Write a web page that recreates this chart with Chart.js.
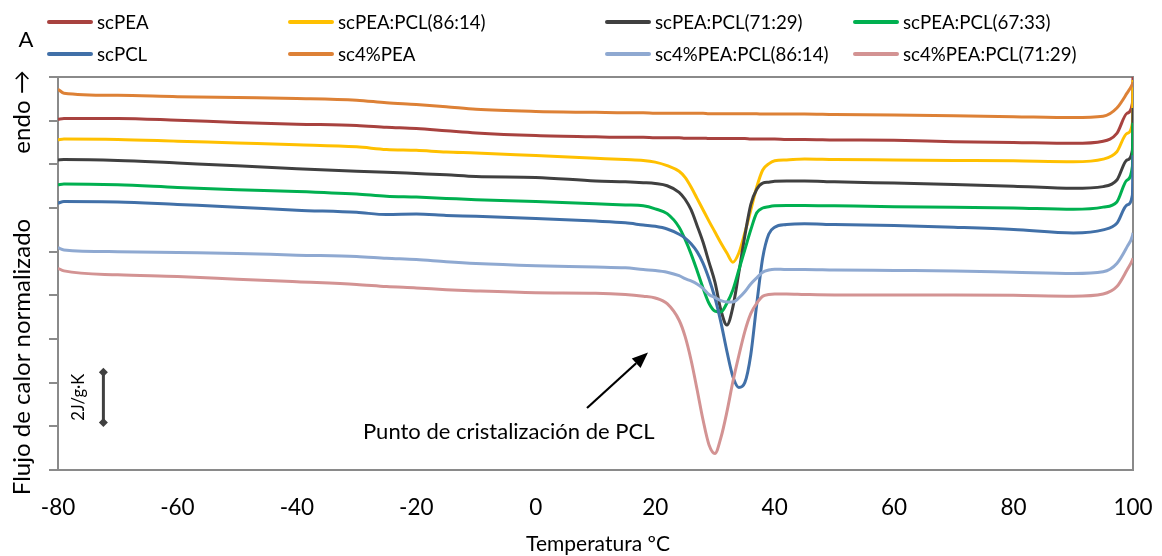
<!DOCTYPE html>
<html><head><meta charset="utf-8">
<script src="https://cdn.jsdelivr.net/npm/chart.js@4.4.0/dist/chart.umd.min.js"></script>
<style>
html,body{margin:0;padding:0;background:#fff;}
#wrap{position:relative;width:1162px;height:556px;overflow:hidden;}
#c{position:absolute;left:0;top:0;}
.leg{position:absolute;height:24px;line-height:24px;display:flex;align-items:center;font-family:Lato,sans-serif;font-size:18.7px;color:#000;white-space:nowrap;}
.leg i{display:inline-block;width:46px;height:4px;border-radius:2px;margin-right:4px;}
</style></head>
<body><div id="wrap"><canvas id="c" width="1162" height="556"></canvas></div>
<script>
// Temperature grid (ºC)
const temperatures = [-80,-79,-70,-60,-50,-40,-30,-25,-20,-15,-10,0,10,
  15,18,20,22,24,25,26,27,28,29,30,31,32,33,34,35,36,37,38,39,40,42,45,
  50,60,70,80,90,95,97.3,99,99.9,100];

const seriesNames = ['scPEA','scPEA:PCL(86:14)','scPEA:PCL(71:29)','scPEA:PCL(67:33)',
  'scPCL','sc4%PEA','sc4%PEA:PCL(86:14)','sc4%PEA:PCL(71:29)'];
const seriesColors = ['#A8423F','#FFC000','#404040','#00B050','#4170A8','#DD8136','#8FA9D1','#D39393'];

const scPEA = [8.03,8.05,8.05,8.01,7.96,7.92,7.89,7.85,7.82,7.77,7.72,7.66,7.63,
  7.62,7.62,7.61,7.61,7.61,7.60,7.60,7.60,7.60,7.59,7.59,7.59,7.59,7.59,7.59,7.59,7.58,7.58,7.58,7.58,7.58,7.57,7.57,
  7.56,7.55,7.52,7.50,7.48,7.53,7.71,8.17,8.40,9.0];
const scPEA_PCL_86_14 = [7.56,7.58,7.57,7.53,7.49,7.45,7.40,7.34,7.32,7.28,7.26,7.20,7.14,
  7.11,7.09,7.05,6.97,6.84,6.70,6.48,6.22,5.96,5.70,5.45,5.20,4.97,4.76,4.97,5.43,5.95,6.48,6.87,7.01,7.08,7.10,7.12,
  7.11,7.10,7.09,7.08,7.06,7.12,7.29,7.71,7.94,8.93];
const scPEA_PCL_71_29 = [7.10,7.11,7.09,7.03,6.97,6.90,6.84,6.82,6.79,6.76,6.72,6.70,6.62,
  6.60,6.58,6.56,6.51,6.36,6.20,5.96,5.60,5.22,4.76,4.30,3.66,3.32,3.73,4.52,5.36,6.08,6.43,6.57,6.59,6.61,6.62,6.62,
  6.60,6.57,6.54,6.50,6.45,6.49,6.64,7.10,7.33,8.29];
const scPEA_PCL_67_33 = [6.53,6.55,6.53,6.47,6.42,6.38,6.32,6.27,6.25,6.22,6.19,6.15,6.10,
  6.07,6.05,5.98,5.87,5.56,5.28,4.95,4.57,4.17,3.82,3.64,3.62,3.82,4.12,4.58,5.04,5.50,5.89,6.00,6.03,6.05,6.06,6.06,
  6.05,6.03,6.02,6.00,5.97,6.02,6.14,6.64,6.95,7.95];
const scPCL = [6.11,6.15,6.14,6.08,6.02,5.95,5.90,5.85,5.86,5.83,5.81,5.76,5.70,
  5.66,5.61,5.58,5.52,5.40,5.31,5.18,5.00,4.74,4.38,3.94,3.38,2.72,2.14,1.89,2.00,2.64,3.80,4.86,5.40,5.56,5.62,5.64,
  5.62,5.60,5.56,5.51,5.43,5.50,5.65,6.07,6.30,7.21];
const sc4PEA = [8.72,8.63,8.58,8.55,8.53,8.51,8.47,8.41,8.37,8.32,8.26,8.21,8.19,
  8.18,8.18,8.17,8.17,8.17,8.17,8.17,8.17,8.17,8.16,8.16,8.16,8.16,8.16,8.16,8.16,8.16,8.16,8.15,8.15,8.15,8.15,8.15,
  8.14,8.13,8.11,8.09,8.07,8.10,8.29,8.63,8.84,8.88];
const sc4PEA_PCL_86_14 = [5.09,5.04,5.00,4.98,4.96,4.92,4.89,4.85,4.82,4.77,4.73,4.68,4.65,
  4.63,4.59,4.57,4.53,4.45,4.38,4.33,4.26,4.16,4.02,3.95,3.88,3.85,3.85,3.94,4.08,4.26,4.40,4.53,4.58,4.60,4.59,4.59,
  4.58,4.57,4.56,4.53,4.50,4.54,4.73,5.11,5.36,5.43];
const sc4PEA_PCL_71_29 = [4.62,4.56,4.47,4.43,4.37,4.31,4.25,4.20,4.17,4.13,4.10,4.06,4.05,
  4.02,3.98,3.94,3.81,3.43,3.06,2.52,1.85,1.15,0.58,0.38,0.74,1.33,2.02,2.62,3.17,3.58,3.82,3.98,4.02,4.03,4.03,4.02,
  4.01,4.01,4.01,4.00,3.98,4.03,4.20,4.58,4.81,4.85];

const seriesValues = [scPEA, scPEA_PCL_86_14, scPEA_PCL_71_29, scPEA_PCL_67_33,
  scPCL, sc4PEA, sc4PEA_PCL_86_14, sc4PEA_PCL_71_29];

const xTicks = [-80,-60,-40,-20,0,20,40,60,80,100];
const yRange = [0, 9];

// scale bar (2 J/g·K) and annotation anchors, in data units
const scaleBarT = [-72.4, -72.4];
const scaleBarV = [1.09, 2.24];
const arrowT = [8.58, 18.79];
const arrowV = [1.42, 2.69];
const annotText = 'Punto de cristalización de PCL';
const annotAnchor = [-28.93, 0.87];

// HTML legend (4 columns x 2 rows)
const legCols = [47, 288, 605, 853];
const legRows = [21.5, 53.5];
const wrap = document.getElementById('wrap');
seriesNames.forEach((n, i) => {
  const d = document.createElement('div');
  d.className = 'leg';
  d.style.left = legCols[i % 4] + 'px';
  d.style.top = (legRows[Math.floor(i / 4)] - 12) + 'px';
  d.innerHTML = '<i style="background:' + seriesColors[i] + '"></i>' + n;
  wrap.appendChild(d);
});

const N = seriesNames.length;
const datasets = seriesValues.map((vals, i) => ({
  label: seriesNames[i],
  data: vals.map((v, k) => ({x: temperatures[k], y: v})),
  borderColor: seriesColors[i],
  backgroundColor: seriesColors[i],
  borderWidth: 3,
  pointRadius: 0,
  cubicInterpolationMode: 'monotone',
  order: N - 1 - i,
  fill: false
}));
datasets.push({
  label: 'scale',
  data: scaleBarT.map((t, k) => ({x: t, y: scaleBarV[k]})),
  borderColor: '#404040',
  backgroundColor: '#404040',
  borderWidth: 3,
  pointStyle: 'rectRot',
  pointRadius: 4.5,
  pointBorderWidth: 0,
  order: 20
});

const extras = {
  id: 'extras',
  beforeDatasetsDraw(chart) {
    const {ctx, chartArea: a} = chart;
    ctx.save();
    ctx.strokeStyle = '#8a8a8a';
    ctx.lineWidth = 2;
    ctx.strokeRect(a.left, a.top, a.right - a.left, a.bottom - a.top);
    ctx.restore();
  },
  afterDraw(chart) {
    const {ctx} = chart;
    const sx = chart.scales.x, sy = chart.scales.y;
    ctx.save();
    ctx.fillStyle = '#000';
    ctx.font = '22px Lato';
    ctx.textAlign = 'center';
    ctx.textBaseline = 'middle';
    ctx.fillText('A', 26, 40);
    ctx.font = '21px Lato';
    ctx.textBaseline = 'alphabetic';
    ctx.fillText('Temperatura ºC', 598, 551);
    ctx.save();
    ctx.translate(22, 0);
    ctx.rotate(-Math.PI / 2);
    ctx.font = '24px Lato';
    ctx.textBaseline = 'middle';
    ctx.fillText('Flujo de calor normalizado', -357, 0);
    ctx.fillText('endo \u2192', -112, 0);
    ctx.restore();
    ctx.save();
    const bx = sx.getPixelForValue(scaleBarT[0]);
    const by = (sy.getPixelForValue(scaleBarV[0]) + sy.getPixelForValue(scaleBarV[1])) / 2;
    ctx.translate(bx - 25, by);
    ctx.rotate(-Math.PI / 2);
    ctx.font = '16.5px Lato';
    ctx.textAlign = 'center';
    ctx.textBaseline = 'middle';
    ctx.fillText('2J/g\u00b7K', 0, 0);
    ctx.restore();
    ctx.font = '22px Lato';
    ctx.textAlign = 'left';
    ctx.textBaseline = 'middle';
    ctx.fillText(annotText, sx.getPixelForValue(annotAnchor[0]), sy.getPixelForValue(annotAnchor[1]));
    const x0 = sx.getPixelForValue(arrowT[0]), y0 = sy.getPixelForValue(arrowV[0]);
    const x1 = sx.getPixelForValue(arrowT[1]), y1 = sy.getPixelForValue(arrowV[1]);
    const ang = Math.atan2(y1 - y0, x1 - x0);
    const hl = 16, hw = 6.5;
    const bxh = x1 - hl * Math.cos(ang), byh = y1 - hl * Math.sin(ang);
    ctx.strokeStyle = '#000';
    ctx.lineWidth = 2.2;
    ctx.beginPath(); ctx.moveTo(x0, y0); ctx.lineTo(bxh, byh); ctx.stroke();
    ctx.beginPath();
    ctx.moveTo(x1, y1);
    ctx.lineTo(bxh + hw * Math.sin(ang), byh - hw * Math.cos(ang));
    ctx.lineTo(bxh - hw * Math.sin(ang), byh + hw * Math.cos(ang));
    ctx.closePath();
    ctx.fill();
    ctx.restore();
  }
};

new Chart(document.getElementById('c'), {
  type: 'line',
  data: {datasets},
  options: {
    responsive: false,
    animation: false,
    devicePixelRatio: 1,
    layout: {padding: {left: 0, right: 29, top: 77, bottom: 0}},
    plugins: {legend: {display: false}, tooltip: {enabled: false}},
    scales: {
      x: {
        type: 'linear', min: xTicks[0], max: xTicks[xTicks.length - 1],
        afterBuildTicks(s) { s.ticks = xTicks.map(v => ({value: v})); },
        afterFit(s) { s.height = 86; s.paddingLeft = 0; s.paddingRight = 0; },
        grid: {display: false},
        border: {display: false},
        ticks: {color: '#000', font: {family: 'Lato', size: 22.5}, padding: 16, maxRotation: 0, autoSkip: false}
      },
      y: {
        type: 'linear', min: yRange[0], max: yRange[1],
        afterFit(s) { s.width = 58; s.paddingTop = 0; s.paddingBottom = 0; },
        ticks: {stepSize: 1, display: false},
        grid: {drawOnChartArea: false, drawTicks: true, tickLength: 9, color: '#8a8a8a', lineWidth: 2},
        border: {display: false}
      }
    }
  },
  plugins: [extras]
});
</script>
</body></html>
